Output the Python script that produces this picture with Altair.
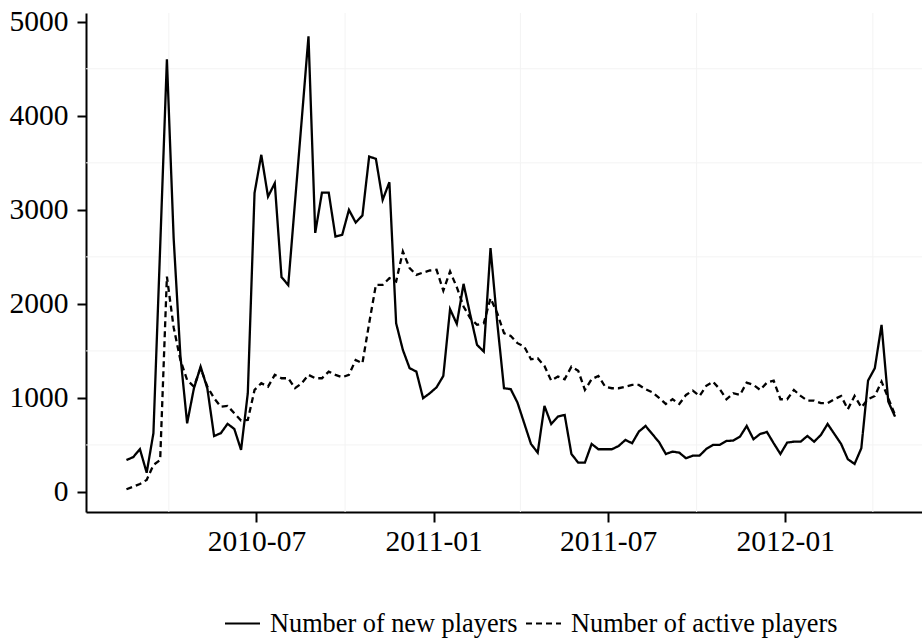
import altair as alt
import pandas as pd

# Weekly counts, starting mid-February 2010
first_week = "2010-02-16"

new_players = [
    340, 370, 455, 205, 625, 2600, 4600, 2700, 1450, 730,
    1100, 1333, 1100, 595, 625, 725, 670, 447, 1050, 3180,
    3585, 3140, 3283, 2284, 2200, 3080, 3960, 4845, 2755, 3184,
    3184, 2716, 2734, 3000, 2865, 2940, 3567, 3542, 3106, 3294,
    1794, 1510, 1316, 1280, 997, 1050, 1113, 1234, 1944, 1787,
    2213, 1883, 1564, 1493, 2593, 1800, 1103, 1093, 950, 731,
    511, 418, 915, 723, 801, 819, 404, 312, 312, 511,
    454, 454, 454, 489, 553, 518, 642, 702, 615, 530,
    404, 429, 418, 358, 386, 386, 457, 500, 500, 543,
    546, 588, 702, 561, 617, 638, 518, 404, 525, 535,
    535, 596, 535, 606, 723, 617, 511, 348, 298, 465,
    1184, 1316, 1777, 961, 801,
]

active_players = [
    29, 56, 85, 128, 287, 340, 2290, 1750, 1404, 1191,
    1120, 1316, 1120, 997, 907, 915, 837, 759, 766, 1085,
    1156, 1120, 1245, 1209, 1209, 1103, 1156, 1245, 1209, 1209,
    1280, 1245, 1220, 1245, 1404, 1369, 1794, 2202, 2202, 2273,
    2238, 2557, 2380, 2309, 2333, 2355, 2362, 2141, 2344, 2177,
    1972, 1848, 1777, 1794, 2060, 1901, 1688, 1660, 1582, 1546,
    1411, 1422, 1340, 1184, 1227, 1199, 1333, 1290, 1085, 1199,
    1234, 1120, 1103, 1103, 1120, 1138, 1138, 1093, 1060, 1000,
    936, 986, 936, 1032, 1078, 1021, 1128, 1173, 1093, 986,
    1050, 1032, 1163, 1138, 1085, 1163, 1184, 986, 986, 1085,
    1021, 971, 971, 944, 944, 986, 1021, 880, 1021, 901,
    986, 1021, 1173, 997, 819,
]

series_names = ["Number of new players", "Number of active players"]

x_ticks = ["2010-07-01", "2011-01-01", "2011-07-01", "2012-01-01"]
y_ticks = [0, 1000, 2000, 3000, 4000, 5000]

# Light background grid between the labelled ticks
grid_dates = ["2010-04-01", "2010-10-01", "2011-04-01", "2011-10-01", "2012-04-01"]
grid_values = [500, 1500, 2500, 3500, 4500]

weeks = pd.date_range(first_week, periods=len(new_players), freq="7D").strftime("%Y-%m-%d")

df = pd.concat([
    pd.DataFrame({"week": weeks, "count": new_players, "series": series_names[0]}),
    pd.DataFrame({"week": weeks, "count": active_players, "series": series_names[1]}),
])


def utc_day(s):
    y, m, d = (int(p) for p in s.split("-"))
    return alt.DateTime(year=y, month=m, date=d, utc=True)


FONT = "Liberation Serif"

x_scale = alt.Scale(type="utc", domain=[utc_day("2010-01-05"), utc_day("2012-05-22")])
y_scale = alt.Scale(domain=[-213, 5093], nice=False, zero=False)

x_axis = alt.Axis(
    values=[utc_day(s) for s in x_ticks], format="%Y-%m", title=None, grid=False,
    labelFont=FONT, labelFontSize=29.5, labelColor="black", labelPadding=5,
    tickSize=10, tickWidth=2, tickColor="black", domainWidth=2, domainColor="black",
)
y_axis = alt.Axis(
    values=y_ticks, format="d", title=None, grid=False,
    labelFont=FONT, labelFontSize=29.5, labelColor="black", labelPadding=9,
    tickSize=9, tickWidth=2, tickColor="black", domainWidth=2, domainColor="black",
)

lines = alt.Chart(df).mark_line(color="black", strokeWidth=2.3, clip=True).encode(
    x=alt.X("week:T", scale=x_scale, axis=x_axis),
    y=alt.Y("count:Q", scale=y_scale, axis=y_axis),
    strokeDash=alt.StrokeDash(
        "series:N",
        scale=alt.Scale(domain=series_names, range=[[1, 0], [6, 4]]),
        legend=alt.Legend(
            title=None, orient="none", direction="horizontal",
            legendX=138, legendY=592, padding=0,
            labelFont=FONT, labelFontSize=26.3, labelColor="black", labelOffset=9,
            labelLimit=0,
            symbolType="stroke", symbolSize=1225, symbolStrokeWidth=2,
            symbolStrokeColor="black", columnPadding=4,
        ),
    ),
    detail="series:N",
)

vgrid = alt.Chart(pd.DataFrame({"d": grid_dates})).mark_rule(
    color="#f3f3f3", strokeWidth=1
).encode(x=alt.X("d:T", scale=x_scale, axis=x_axis))

hgrid = alt.Chart(pd.DataFrame({"v": grid_values})).mark_rule(
    color="#f3f3f3", strokeWidth=1
).encode(y=alt.Y("v:Q", scale=y_scale, axis=y_axis))

chart = alt.layer(vgrid, hgrid, lines).properties(
    width=836,
    height=499,
    padding={"left": 86, "top": 13, "right": 0, "bottom": 127},
    autosize=alt.AutoSizeParams(type="none"),
    background="white",
).configure_view(stroke=None)

chart.save("out.html", embed_options={"renderer": "svg", "actions": False})
